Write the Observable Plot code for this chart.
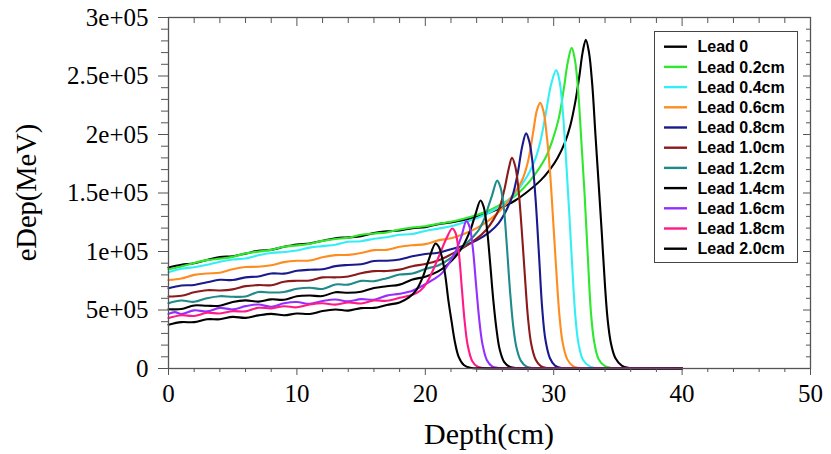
<!DOCTYPE html>
<html>
<head>
<meta charset="utf-8">
<script src="https://cdn.jsdelivr.net/npm/d3@7"></script>
<script src="https://cdn.jsdelivr.net/npm/@observablehq/plot@0.6"></script>
<style>
  html, body { margin: 0; padding: 0; background: #fff; }
  #chart { width: 831px; height: 454px; overflow: hidden; }
</style>
</head>
<body>
<div id="chart"></div>
<script>
// ---------- data ----------
const seriesNames = ["Lead 0", "Lead 0.2cm", "Lead 0.4cm", "Lead 0.6cm", "Lead 0.8cm", "Lead 1.0cm",
                     "Lead 1.2cm", "Lead 1.4cm", "Lead 1.6cm", "Lead 1.8cm", "Lead 2.0cm"];
const seriesColors = ["#000000", "#2ee82e", "#33eef5", "#ff8c1f", "#1a1a8c", "#8b1a1a",
                      "#1f8a8a", "#000000", "#9430ff", "#ff1a86", "#000000"];

// [depth (cm), eDep (MeV)]
const lead0 = [[0,86400],[1,88700],[2,90000],[3,92700],[4,95200],[5,96000],[6,98200],[7,100700],[8,101400],[9,104000],[10,106000],[11,106900],[12,109200],[13,111300],[14,112100],[15,113100],[16,115700],[17,117200],[18,118000],[19,119900],[20,120800],[21,123300],[22,124900],[23,126900],[24,129700],[25,133300],[26,138000],[27,143600],[28,151500],[29,161000],[29.7,170000],[30.3,180000],[30.9,194000],[31.3,208000],[31.7,229000],[32.0,250000],[32.25,270000],[32.5,281000],[32.75,270000],[33.0,243000],[33.25,200000],[33.5,158000],[33.75,115000],[34.0,70000],[34.2,42000],[34.45,22000],[34.8,9000],[35.3,2500],[35.8,600],[37,200],[40,0]];
const lead02 = [[0,84800],[1,87200],[2,90200],[3,92600],[4,93900],[5,95400],[6,98400],[7,99900],[8,101400],[9,104100],[10,105200],[11,106600],[12,109100],[13,110700],[14,111700],[15,114300],[16,115400],[17,116300],[18,118800],[19,120500],[20,121600],[21,123700],[22,125400],[23,128000],[24,131200],[25,135300],[26,141000],[27,147500],[27.6,153600],[28.2,161000],[28.8,170000],[29.4,181000],[29.9,195000],[30.4,214000],[30.8,240000],[31.1,262000],[31.4,274000],[31.65,264000],[31.9,238000],[32.15,195000],[32.4,150000],[32.65,97000],[32.9,48000],[33.15,23000],[33.5,8000],[34.0,2000],[34.5,500],[36,100],[40,0]];
const lead04 = [[0,82300],[1,85200],[2,86600],[3,88600],[4,91300],[5,93100],[6,94000],[7,96800],[8,98700],[9,99600],[10,100800],[11,103300],[12,104600],[13,105800],[14,108300],[15,108800],[16,110900],[17,112200],[18,114300],[19,114900],[20,117600],[21,119500],[22,121600],[23,124800],[24,128500],[25,133300],[26,139800],[26.8,147500],[27.5,157000],[28.1,167500],[28.6,180000],[29.0,196000],[29.4,219000],[29.8,243000],[30.2,255000],[30.45,246000],[30.7,221000],[30.95,181000],[31.2,135000],[31.45,86000],[31.7,43000],[31.95,20000],[32.3,7000],[32.8,1800],[33.3,400],[35,100],[40,0]];
const lead06 = [[0,75600],[1,76900],[2,80000],[3,81200],[4,81900],[5,84800],[6,86700],[7,87000],[8,88200],[9,90900],[10,92100],[11,92300],[12,95100],[13,96900],[14,97100],[15,98700],[16,101200],[17,101400],[18,104000],[19,105400],[20,106300],[21,109500],[22,111300],[23,115000],[24,120000],[25,127000],[26,137000],[26.8,148000],[27.5,160000],[28.0,177000],[28.4,202000],[28.7,221000],[28.95,227000],[29.2,220000],[29.45,200000],[29.7,170000],[29.95,128000],[30.2,84000],[30.45,45000],[30.7,22000],[31.05,8000],[31.5,2000],[32,400],[34,100],[40,0]];
const lead08 = [[0,68600],[1,71000],[2,71400],[3,73700],[4,75800],[5,75600],[6,77900],[7,78700],[8,81200],[9,81100],[10,83500],[11,84400],[12,84800],[13,87500],[14,88500],[15,89100],[16,91900],[17,92100],[18,93200],[19,95900],[20,97900],[21,98900],[22,102000],[23,105000],[24,109500],[25,116500],[25.7,124000],[26.3,135000],[26.8,148000],[27.2,167000],[27.55,190000],[27.85,201000],[28.1,194000],[28.35,176000],[28.6,143000],[28.85,98000],[29.1,52000],[29.35,25000],[29.7,9000],[30.1,2500],[30.6,500],[32,100],[40,0]];
const lead10 = [[0,61500],[1,62200],[2,65100],[3,66900],[4,66700],[5,67600],[6,70400],[7,71300],[8,71200],[9,74200],[10,75000],[11,75200],[12,77900],[13,77900],[14,78700],[15,81400],[16,83200],[17,83300],[18,84500],[19,87400],[20,89300],[21,92300],[22,97500],[23,103500],[24,111000],[24.7,118000],[25.3,127000],[25.8,138000],[26.2,155000],[26.5,171000],[26.75,180000],[27.0,173000],[27.25,154000],[27.5,120000],[27.75,80000],[28.0,43000],[28.25,21000],[28.6,7500],[29.0,2000],[29.5,400],[31,100],[40,0]];
const lead12 = [[0,55800],[1,58100],[2,57000],[3,60100],[4,61800],[5,61300],[6,61600],[7,65400],[8,64900],[9,65400],[10,68100],[11,69000],[12,68000],[13,71800],[14,71700],[15,74900],[16,74600],[17,77200],[18,80300],[19,81200],[20,85100],[21,88000],[22,94500],[22.7,101500],[23.2,107000],[23.8,113500],[24.2,119000],[24.6,128000],[24.9,138000],[25.2,148000],[25.6,160600],[25.85,155000],[26.1,139000],[26.35,105000],[26.6,66000],[26.85,36000],[27.1,18000],[27.45,6500],[27.9,1500],[28.5,300],[30,100],[40,0]];
const lead14 = [[0,50700],[1,50800],[2,53900],[3,53600],[4,53700],[5,56900],[6,58200],[7,57200],[8,59100],[9,58700],[10,61800],[11,62400],[12,61900],[13,65200],[14,64700],[15,65600],[16,68800],[17,70300],[18,71700],[19,76100],[20,78400],[21,83000],[21.7,88500],[22.3,95000],[22.9,104000],[23.5,118000],[23.9,131500],[24.3,143600],[24.55,138000],[24.8,120000],[25.05,90000],[25.3,58000],[25.55,33000],[25.8,16000],[26.15,5500],[26.6,1300],[27.2,300],[29,100],[40,0]];
const lead16 = [[0,46700],[0.5,48200],[1,46500],[2,49700],[3,48800],[4,51800],[5,50500],[6,53300],[7,54700],[8,52800],[9,55700],[10,56800],[11,55200],[12,57700],[13,59000],[14,57400],[15,59300],[16,58700],[17,62300],[18,63900],[19,66500],[20,72000],[20.7,76500],[21.3,81500],[21.9,91000],[22.4,101000],[22.8,112500],[23.2,126000],[23.45,121000],[23.7,103000],[23.95,72000],[24.2,42000],[24.45,21000],[24.8,7000],[25.2,1800],[25.7,400],[27,100],[40,0]];
const lead18 = [[0,43100],[1,45500],[2,44900],[3,47600],[4,47000],[5,49000],[6,48800],[7,51900],[8,51400],[9,53200],[10,52300],[11,54700],[12,55800],[13,54600],[14,56400],[15,55600],[16,58100],[17,57900],[18,60400],[19,63000],[19.6,66500],[20.1,73000],[20.6,84000],[21.1,97000],[21.6,110000],[22.1,119700],[22.35,116000],[22.6,100000],[22.85,68000],[23.05,42000],[23.3,20000],[23.65,6500],[24.05,1700],[24.5,400],[26,100],[40,0]];
const lead20 = [[0,37400],[1,39600],[2,39600],[3,42100],[4,42100],[5,44100],[6,43300],[7,45400],[8,46700],[9,45500],[10,47000],[11,46600],[12,49100],[13,50400],[14,49500],[15,51600],[16,51800],[17,54300],[18,56500],[18.7,60500],[19.3,67000],[19.8,78000],[20.3,94000],[20.8,106800],[21.05,104000],[21.3,95000],[21.55,80000],[21.8,58000],[22.05,40000],[22.3,23000],[22.6,10000],[23.0,3000],[23.5,600],[24.5,100],[40,0]];

const seriesValues = [lead0, lead02, lead04, lead06, lead08, lead10, lead12, lead14, lead16, lead18, lead20];

const yMajor = [0, 50000, 100000, 150000, 200000, 250000, 300000];
const yTickLabels = ["0", "5e+05", "1e+05", "1.5e+05", "2e+05", "2.5e+05", "3e+05"];
const xMajor = [0, 10, 20, 30, 40, 50];
const xTickLabels = ["0", "10", "20", "30", "40", "50"];
const yMinor = d3.range(0, 300001, 10000).filter(v => v % 50000 !== 0);
const xMinor = d3.range(0, 51, 2).filter(v => v % 10 !== 0);

const xTitle = "Depth(cm)";
const yTitle = "eDep(MeV)";

// ---------- build table ----------
const rows = [];
seriesNames.forEach((name, i) => {
  seriesValues[i].forEach(([d, v]) => rows.push({series: name, depth: d, edep: v}));
});

// ---------- layout ----------
const W = 831, H = 454;
const mL = 168, mR = 21, mT = 17, mB = 86;
const axisColor = "#555";
const serif = "'Liberation Serif', 'Times New Roman', serif";

const plot = Plot.plot({
  width: W, height: H,
  marginLeft: mL, marginRight: mR, marginTop: mT, marginBottom: mB,
  style: {fontFamily: serif, background: "#fff", color: "#000", overflow: "visible"},
  x: {domain: [0, 50]},
  y: {domain: [0, 300000]},
  color: {domain: seriesNames, range: seriesColors},
  marks: [
    Plot.line(rows, {x: "depth", y: "edep", z: "series", stroke: "series", strokeWidth: 2.1, curve: "catmull-rom", strokeLinejoin: "round"}),
    Plot.frame({stroke: axisColor, strokeWidth: 1.3}),
    // left axis (outward ticks)
    Plot.axisY({ticks: yMajor, tickSize: 10, tickPadding: 10, fontSize: 25, stroke: axisColor, fill: "#000",
                tickFormat: d => yTickLabels[yMajor.indexOf(d)], label: null}),
    Plot.axisY({ticks: yMinor, tickSize: 7, tickFormat: () => "", stroke: axisColor, label: null}),
    // right mirror ticks (pointing inward)
    Plot.axisY({anchor: "right", ticks: yMajor, tickSize: 8, dx: -8, tickFormat: () => "", stroke: axisColor, label: null}),
    Plot.axisY({anchor: "right", ticks: yMinor, tickSize: 5, dx: -5, tickFormat: () => "", stroke: axisColor, label: null}),
    // bottom axis
    Plot.axisX({ticks: xMajor, tickSize: 7, tickPadding: 9, fontSize: 25, stroke: axisColor, fill: "#000",
                tickFormat: d => xTickLabels[xMajor.indexOf(d)], label: null}),
    Plot.axisX({ticks: xMinor, tickSize: 4, tickFormat: () => "", stroke: axisColor, label: null}),
    // top mirror ticks (pointing inward)
    Plot.axisX({anchor: "top", ticks: xMajor, tickSize: 8, dy: 8, tickFormat: () => "", stroke: axisColor, label: null}),
    Plot.axisX({anchor: "top", ticks: xMinor, tickSize: 5, dy: 5, tickFormat: () => "", stroke: axisColor, label: null})
  ]
});

const svg = d3.select(plot);

// axis titles
svg.append("text")
  .attr("x", mL + (W - mL - mR) / 2).attr("y", 444)
  .attr("text-anchor", "middle")
  .style("font-family", serif).style("font-size", "30px").attr("fill", "#000")
  .text(xTitle);
svg.append("text")
  .attr("transform", `translate(36,${mT + (H - mT - mB) / 2}) rotate(-90)`)
  .attr("text-anchor", "middle")
  .style("font-family", serif).style("font-size", "28.5px").attr("fill", "#000")
  .text(yTitle);

// legend
const lg = svg.append("g");
const lgX = 654.5, lgY = 31.5, lgW = 143, lgH = 231, rowH = 20.2;
lg.append("rect").attr("x", lgX).attr("y", lgY).attr("width", lgW).attr("height", lgH)
  .attr("fill", "#fff").attr("stroke", "#444").attr("stroke-width", 1);
seriesNames.forEach((name, i) => {
  const cy = lgY + 15.2 + i * rowH;
  lg.append("line").attr("x1", lgX + 9.5).attr("x2", lgX + 32.5).attr("y1", cy).attr("y2", cy)
    .attr("stroke", seriesColors[i]).attr("stroke-width", 2.4);
  lg.append("text").attr("x", lgX + 43).attr("y", cy).attr("dy", "0.36em")
    .attr("text-anchor", "start")
    .style("font-family", "'Liberation Sans', Arial, sans-serif").style("font-weight", "bold")
    .style("font-size", "16px").attr("fill", "#000")
    .text(name);
});

document.getElementById("chart").appendChild(plot);
</script>
</body>
</html>
